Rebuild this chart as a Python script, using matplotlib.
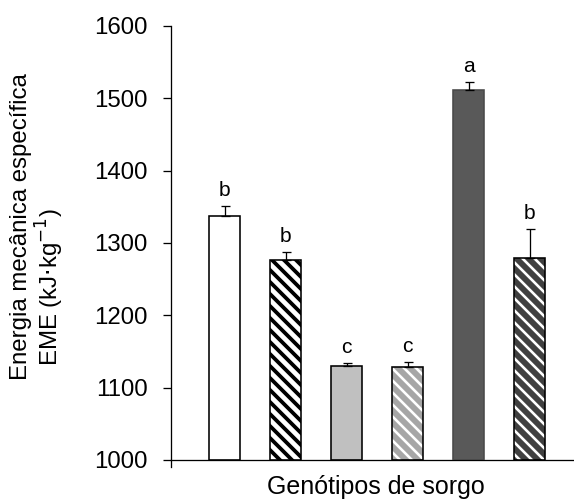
"""Energia mecânica específica (EME) por genótipo de sorgo — bar chart."""

import matplotlib
matplotlib.use("Agg")
import matplotlib.pyplot as plt
import numpy as np

# data
genotypes = ["G1", "G2", "G3", "G4", "G5", "G6"]
eme_values = [1338, 1277, 1130, 1129, 1512, 1279]
eme_errors = [13, 11, 4, 7, 11, 40]
letters = ["b", "b", "c", "c", "a", "b"]

# bar styling: face colour, hatch, hatch colour
face_colors = ["#ffffff", "#ffffff", "#c0c0c0", "#a6a6a6", "#595959", "#404040"]
hatches = [None, "\\\\", None, "\\\\", None, "\\\\"]
hatch_colors = [None, "#000000", None, "#ffffff", None, "#ffffff"]
hatch_widths = [None, 3.8, None, 2.6, None, 2.6]
edge_colors = ["#000000", "#000000", "#000000", "#000000", "#4a4a4a", "#000000"]

plt.rcParams["font.family"] = ["Liberation Sans", "DejaVu Sans"]

DPI = 72  # 1 pt == 1 px, and '\\\\' then gives the 12 px stripe pitch of the original
AX_LEFT, AX_RIGHT, AX_TOP, AX_BOTTOM = 171, 574, 26, 460
fig = plt.figure(figsize=(574 / DPI, 504 / DPI), dpi=DPI)
ax = fig.add_axes([AX_LEFT / 574, 1 - AX_BOTTOM / 504,
                   (AX_RIGHT - AX_LEFT) / 574, (AX_BOTTOM - AX_TOP) / 504])

x = np.arange(len(genotypes))
width = 0.5

for i in range(len(x)):
    ax.bar(x[i], eme_values[i] - 1000, bottom=1000, width=width,
           color=face_colors[i], linewidth=0, zorder=2)
    if hatches[i]:
        with plt.rc_context({"hatch.linewidth": hatch_widths[i],
                             "hatch.color": hatch_colors[i]}):
            ax.bar(x[i], eme_values[i] - 1000, bottom=1000, width=width,
                   fill=False, hatch=hatches[i], edgecolor=hatch_colors[i],
                   linewidth=0, zorder=3)
    ax.bar(x[i], eme_values[i] - 1000, bottom=1000, width=width,
           fill=False, edgecolor=edge_colors[i], linewidth=1.6, zorder=4)

ax.errorbar(x, eme_values, yerr=[np.zeros(len(x)), eme_errors], fmt="none",
            ecolor="black", elinewidth=1.3, capsize=4.5, capthick=1.3, zorder=5)

for xi, v, e, lab in zip(x, eme_values, eme_errors, letters):
    ax.annotate(lab, (xi, v + e), xytext=(0, 10), textcoords="offset points",
                ha="center", va="baseline", fontsize=21)

# bar pitch is 61 px, first bar centred at x=224.5 px
ax.set_ylim(1000, 1600)
ax.set_xlim((AX_LEFT - 224.5) / 61, (AX_RIGHT - 224.5) / 61)
ax.set_yticks(np.arange(1000, 1601, 100))
ax.tick_params(axis="y", direction="out", length=8, width=1.3, labelsize=24, pad=15)
ax.set_xticks([])

for side in ["top", "right"]:
    ax.spines[side].set_visible(False)
ax.spines["left"].set_linewidth(1.3)
ax.spines["left"].set_bounds(990, 1600)  # small overshoot below the x axis
ax.spines["bottom"].set_linewidth(1.3)

fig.text(376 / 574, 1 - 487 / 504, "Genótipos de sorgo", ha="center",
         va="center", fontsize=25)
fig.text(21 / 574, 1 - 227 / 504, "Energia mecânica específica",
         rotation=90, ha="center", va="center", fontsize=24)
fig.text(50 / 574, 1 - 287 / 504, r"EME (kJ$\cdot$kg$^{-1}$)",
         rotation=90, ha="center", va="center", fontsize=24)

fig.savefig("out.png", dpi=DPI)
